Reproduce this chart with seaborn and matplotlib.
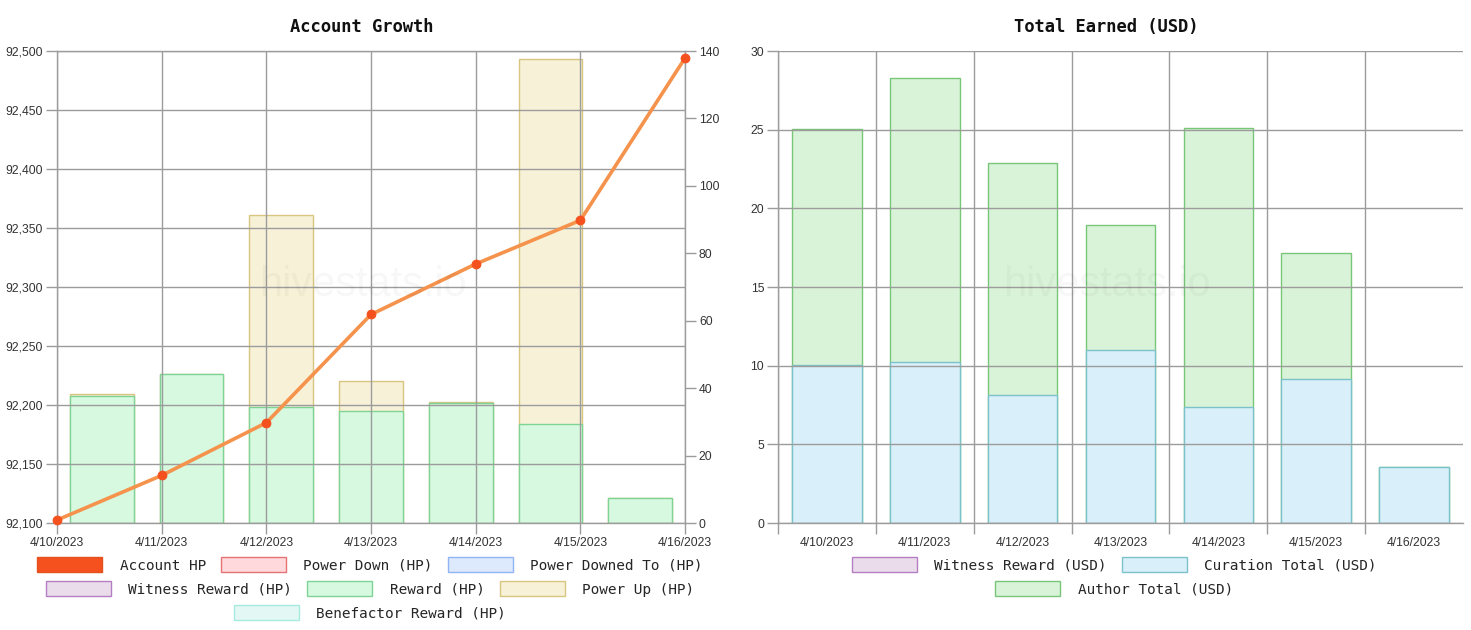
import numpy as np
import pandas as pd
import matplotlib
matplotlib.use("Agg")
import matplotlib.pyplot as plt
import seaborn as sns
from matplotlib.patches import Patch
from matplotlib.ticker import MultipleLocator, FuncFormatter, FixedLocator

# ---------------- data ----------------
dates = ["4/10/2023", "4/11/2023", "4/12/2023", "4/13/2023",
         "4/14/2023", "4/15/2023", "4/16/2023"]
account_hp = [92102.5, 92140.3, 92185.0, 92276.7, 92319.5, 92356.5, 92494.0]
reward_hp = [37.7, 44.3, 34.4, 33.1, 35.5, 29.4, 7.5]
power_up_hp = [0.5, 0.0, 57.0, 9.1, 0.5, 108.1, 0.0]

curation_usd = [10.04, 10.25, 8.16, 11.01, 7.36, 9.18, 3.57]
author_usd = [15.03, 18.01, 14.71, 7.95, 17.77, 7.99, 0.0]

left_legend_rows = [
    ["Account HP", "Power Down (HP)", "Power Downed To (HP)"],
    ["Witness Reward (HP)", "Reward (HP)", "Power Up (HP)"],
    ["Benefactor Reward (HP)"],
]
right_legend_rows = [
    ["Witness Reward (USD)", "Curation Total (USD)"],
    ["Author Total (USD)"],
]

# ---------------- style ----------------
sns.set_style("white")
plt.rcParams["font.family"] = ["Liberation Sans", "DejaVu Sans"]
MONO = "DejaVu Sans Mono"
GRID = "#9c9c9c"
TXT = "#333333"

colors = {
    "Account HP": ("#f4511e", "#e2521f"),
    "Power Down (HP)": ("#ffd9dc", "#e57373"),
    "Power Downed To (HP)": ("#dde9fc", "#90b4f4"),
    "Witness Reward (HP)": ("#ebdcec", "#b57ec3"),
    "Reward (HP)": ("#d6f9e0", "#7fd394"),
    "Power Up (HP)": ("#f7f1d7", "#d8c680"),
    "Benefactor Reward (HP)": ("#e3f7f4", "#a6ebe0"),
    "Witness Reward (USD)": ("#ebdcec", "#b57ec3"),
    "Curation Total (USD)": ("#d9eff9", "#7cc2ca"),
    "Author Total (USD)": ("#d9f3d8", "#78c678"),
}

W, H = 1471, 630
fig = plt.figure(figsize=(W / 100, H / 100), dpi=100)


def rect(x0, y0, x1, y1):
    return [x0 / W, 1 - y1 / H, (x1 - x0) / W, (y1 - y0) / H]


BAR_W = 0.71

# ---------------- left chart ----------------
hp_df = pd.DataFrame({"date": dates, "reward": reward_hp, "power_up": power_up_hp})
hp_df["total"] = hp_df["reward"] + hp_df["power_up"]

ax_bar = fig.add_axes(rect(57, 51, 685, 523), label="bars")
ax_line = fig.add_axes(rect(57, 51, 685, 523), label="line")

fc, ec = colors["Power Up (HP)"]
sns.barplot(data=hp_df, x="date", y="total", color=fc, edgecolor=ec, linewidth=1,
            width=BAR_W, saturation=1, errorbar=None, ax=ax_bar)
fc, ec = colors["Reward (HP)"]
sns.barplot(data=hp_df, x="date", y="reward", color=fc, edgecolor=ec, linewidth=1,
            width=BAR_W, saturation=1, errorbar=None, ax=ax_bar)
ax_bar.set_xlim(-0.5, len(dates) - 0.5)
ax_bar.set_ylim(0, 140)
ax_bar.yaxis.set_major_locator(MultipleLocator(20))
ax_bar.yaxis.tick_right()
ax_bar.set_xticks([])
ax_bar.set_xlabel("")
ax_bar.set_ylabel("")
for s in ax_bar.spines.values():
    s.set_visible(False)
ax_bar.tick_params(axis="y", right=True, length=8, width=1, color=GRID,
                   labelsize=8.7, labelcolor=TXT, pad=2)

x_dt = pd.to_datetime(dates, format="%m/%d/%Y")
ax_line.patch.set_alpha(0)
sns.lineplot(x=x_dt, y=account_hp, ax=ax_line, color="#f5924c", linewidth=2.6,
             marker="o", markersize=6.3, markerfacecolor="#f4511e",
             markeredgecolor="#f4511e", zorder=5)
for ln in ax_line.lines:
    ln.set_clip_on(False)
ax_line.set_xlim(x_dt[0], x_dt[-1])
ax_line.set_ylim(92100, 92500)
ax_line.set_xticks(x_dt)
ax_line.set_xticklabels(dates)
ax_line.yaxis.set_major_locator(MultipleLocator(50))
ax_line.yaxis.set_major_formatter(FuncFormatter(lambda v, p: f"{v:,.0f}"))
ax_line.grid(True, color=GRID, linewidth=1)
ax_line.set_axisbelow(True)
for s in ax_line.spines.values():
    s.set_color(GRID)
    s.set_linewidth(1)
ax_line.set_xlabel("")
ax_line.set_ylabel("")
ax_line.tick_params(axis="both", length=8, width=1, color=GRID,
                    labelsize=8.7, labelcolor=TXT, pad=2, left=True, bottom=True)

# ---------------- right chart ----------------
usd_df = pd.DataFrame({"date": dates, "curation": curation_usd, "author": author_usd})
usd_df["total"] = usd_df["curation"] + usd_df["author"]

ax_r = fig.add_axes(rect(778, 51, 1463, 523), label="usd")
fc, ec = colors["Author Total (USD)"]
sns.barplot(data=usd_df, x="date", y="total", color=fc, edgecolor=ec, linewidth=1,
            width=BAR_W, saturation=1, errorbar=None, ax=ax_r)
fc, ec = colors["Curation Total (USD)"]
sns.barplot(data=usd_df, x="date", y="curation", color=fc, edgecolor=ec, linewidth=1,
            width=BAR_W, saturation=1, errorbar=None, ax=ax_r)
ax_r.set_xlim(-0.5, len(dates) - 0.5)
ax_r.set_ylim(0, 30)
ax_r.yaxis.set_major_locator(MultipleLocator(5))
ax_r.xaxis.set_minor_locator(FixedLocator(np.arange(-0.5, len(dates) - 1, 1.0)))
ax_r.set_axisbelow(False)
ax_r.grid(True, axis="y", which="major", color=GRID, linewidth=1)
ax_r.grid(True, axis="x", which="minor", color=GRID, linewidth=1)
ax_r.grid(False, axis="x", which="major")
ax_r.set_xlabel("")
ax_r.set_ylabel("")
for name, s in ax_r.spines.items():
    s.set_color(GRID)
    s.set_linewidth(1)
    if name in ("top", "right"):
        s.set_visible(False)
ax_r.tick_params(axis="y", left=True, length=8, width=1, color=GRID,
                 labelsize=8.7, labelcolor=TXT, pad=2)
ax_r.tick_params(axis="x", which="major", length=0, labelsize=8.7, labelcolor=TXT, pad=10)
ax_r.tick_params(axis="x", which="minor", bottom=True, length=8, width=1, color=GRID)

# ---------------- titles & watermark ----------------
fig.text(362 / W, 1 - 27 / H, "Account Growth", family=MONO, weight="bold",
         fontsize=12.3, ha="center", va="center", color="#111111")
fig.text(1106 / W, 1 - 27 / H, "Total Earned (USD)", family=MONO, weight="bold",
         fontsize=12.3, ha="center", va="center", color="#111111")
for cx in (363, 1107):
    fig.text(cx / W, 1 - 285 / H, "hivestats.io", fontsize=30, color="#000000",
             alpha=0.03, ha="center", va="center")

# ---------------- legends ----------------
leg_kw = dict(loc="center", frameon=False, prop=dict(family=MONO, size=10.4),
              handlelength=4.5, handleheight=1.15, handletextpad=1.2,
              columnspacing=1.05, borderpad=0, borderaxespad=0)


def add_rows(rows, cx, ys):
    for row, y in zip(rows, ys):
        handles = [Patch(facecolor=colors[k][0], edgecolor=colors[k][1], linewidth=1,
                         label=k) for k in row]
        fig.legend(handles=handles, ncol=len(row),
                   bbox_to_anchor=(cx / W, 1 - y / H), **leg_kw)


add_rows(left_legend_rows, 370, [565, 589, 613])
add_rows(right_legend_rows, 1114, [565, 589])

fig.savefig("out.png", dpi=100)
